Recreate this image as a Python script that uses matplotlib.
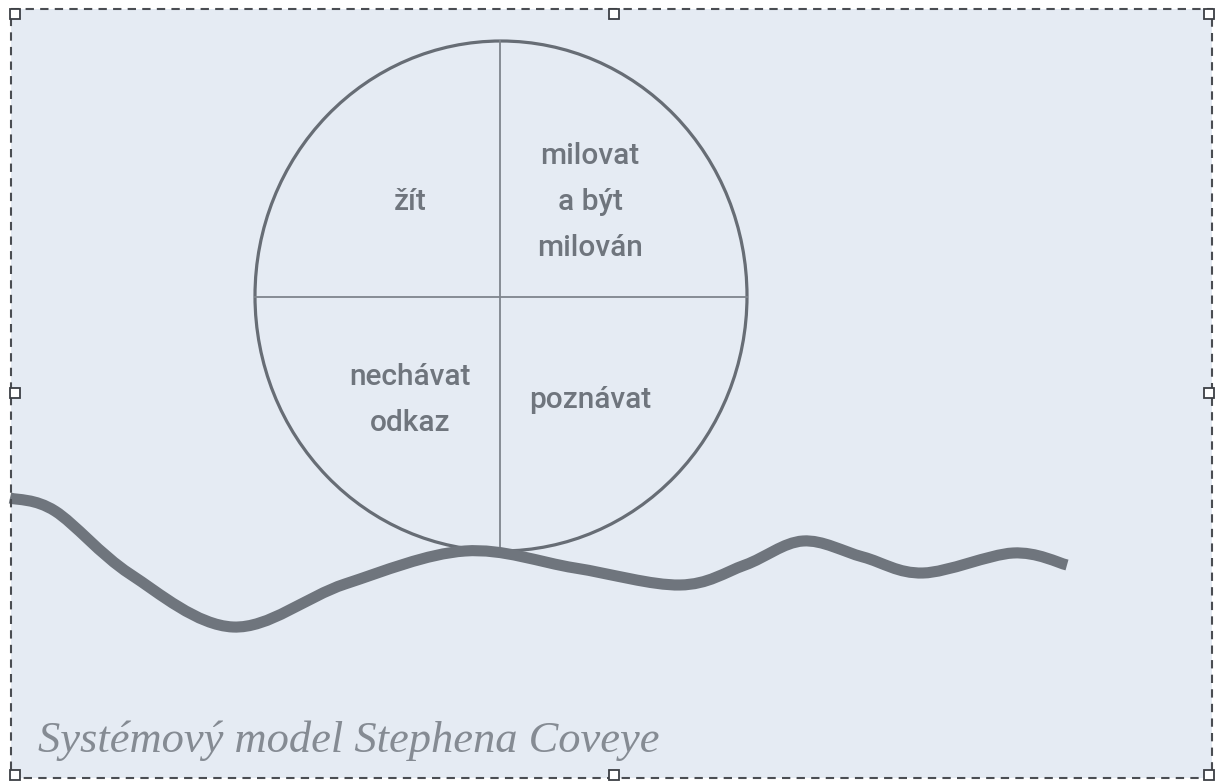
import matplotlib.pyplot as plt
from matplotlib.patches import Ellipse, Rectangle, PathPatch
from matplotlib.path import Path
import numpy as np

# wave line (pixel coords, y downwards): extremes and inflection points
wave_x = [10, 55, 130, 233, 345, 465, 575, 680, 745, 803, 863, 923, 1013, 1067]
wave_y = [498, 511, 574, 627, 584, 551, 568, 585, 565, 541, 557, 573, 553, 565]

# quadrant labels
labels = ["žít", "milovat\na být\nmilován", "nechávat\nodkaz", "poznávat"]
label_x = [410, 590, 410, 590]
label_y = [202, 202, 400, 400]

caption = "Systémový model Stephena Coveye"

BG = "#e5ebf3"
INK = "#6f757d"


def smooth_path(xs, ys):
    # Catmull-Rom -> cubic bezier segments
    pts = np.column_stack([xs, ys]).astype(float)
    verts = [pts[0]]
    codes = [Path.MOVETO]
    n = len(pts)
    for i in range(n - 1):
        p0 = pts[max(i - 1, 0)]
        p1 = pts[i]
        p2 = pts[i + 1]
        p3 = pts[min(i + 2, n - 1)]
        c1 = p1 + (p2 - p0) / 6.0
        c2 = p2 - (p3 - p1) / 6.0
        verts += [c1, c2, p2]
        codes += [Path.CURVE4] * 3
    return Path(verts, codes)


fig = plt.figure(figsize=(12.2, 7.84), dpi=100)
fig.patch.set_facecolor("white")
ax = fig.add_axes([0, 0, 1, 1])
ax.set_xlim(0, 1220)
ax.set_ylim(784, 0)
ax.axis("off")

# background panel with dashed selection border
ax.add_patch(Rectangle((11, 9), 1201, 769, facecolor=BG, edgecolor="none", zorder=0))
ax.add_patch(Rectangle((11, 9), 1201, 769, facecolor="none", edgecolor="#4a4d52",
                       lw=1.5, ls=(0, (4, 3)), zorder=5))
for hx, hy in [(15, 14), (614, 14), (1209, 14), (15, 393), (1209, 393),
               (15, 775), (614, 775), (1209, 775)]:
    ax.add_patch(Rectangle((hx - 5, hy - 5), 10, 10, facecolor="white",
                           edgecolor="#3c3f44", lw=1.3, zorder=6))

# circle with quadrants
cx, cy, rx, ry = 501, 296, 246, 255
ax.add_patch(Ellipse((cx, cy), 2 * rx, 2 * ry, facecolor="none", edgecolor="#676d75", lw=2.3, zorder=2))
ax.plot([cx - rx, cx + rx], [297, 297], color="#7f858c", lw=1.3, zorder=2)
ax.plot([cx - 1, cx - 1], [cy - ry, cy + ry], color="#7f858c", lw=1.3, zorder=2)

for t, x, y in zip(labels, label_x, label_y):
    ax.text(x, y, t, ha="center", va="center", fontsize=21.5, color=INK,
            family=["Roboto", "DejaVu Sans"], fontweight="medium",
            linespacing=1.8, zorder=3)

# wave
ax.add_patch(PathPatch(smooth_path(wave_x, wave_y), facecolor="none", edgecolor=INK,
                       lw=8, capstyle="butt", joinstyle="round", zorder=3))

ax.text(38, 752, caption, ha="left", va="baseline", fontsize=32, style="italic",
        family="Liberation Serif", color="#858b93", zorder=3)

fig.savefig("out.png", dpi=100, facecolor="white")
